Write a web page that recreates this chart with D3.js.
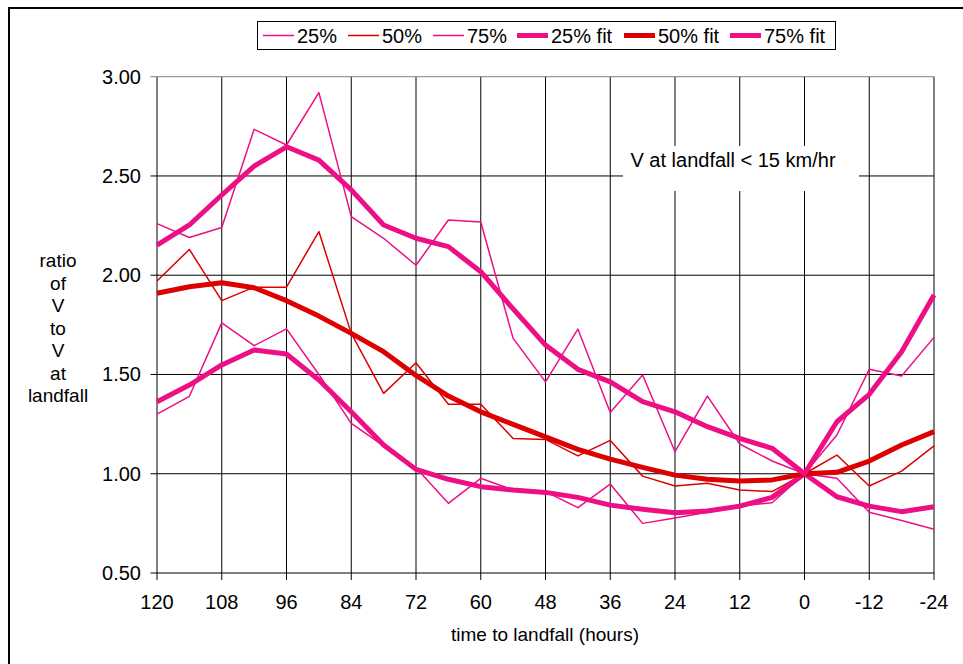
<!DOCTYPE html>
<html>
<head>
<meta charset="utf-8">
<script src="https://cdn.jsdelivr.net/npm/d3@7"></script>
<style>
  body { margin: 0; background: #fff; }
  text { font-family: "Liberation Sans", Arial, sans-serif; fill: #000; }
</style>
</head>
<body>
<div id="chart"></div>
<script>
// hours before landfall, one point every 6 h
const hours = [120, 114, 108, 102, 96, 90, 84, 78, 72, 66, 60, 54, 48, 42, 36, 30, 24, 18, 12, 6, 0, -6, -12, -18, -24];
const xTicks = [120, 108, 96, 84, 72, 60, 48, 36, 24, 12, 0, -12, -24];
const yTicks = [0.5, 1.0, 1.5, 2.0, 2.5, 3.0];

const p25 = [1.30, 1.39, 1.76, 1.645, 1.73, 1.50, 1.254, 1.14, 1.03, 0.851, 0.977, 0.918, 0.91, 0.829, 0.948, 0.75, 0.777, 0.806, 0.837, 0.854, 1.0, 0.977, 0.806, 0.764, 0.72];
const p50 = [1.971, 2.13, 1.872, 1.94, 1.94, 2.22, 1.707, 1.405, 1.559, 1.35, 1.35, 1.178, 1.173, 1.09, 1.168, 0.988, 0.938, 0.952, 0.918, 0.91, 1.0, 1.094, 0.938, 1.013, 1.14];
const p75 = [2.26, 2.19, 2.24, 2.735, 2.656, 2.92, 2.295, 2.186, 2.05, 2.278, 2.268, 1.682, 1.463, 1.729, 1.309, 1.497, 1.111, 1.391, 1.15, 1.064, 1.0, 1.195, 1.526, 1.492, 1.687];
const p25fit = [1.363, 1.447, 1.548, 1.623, 1.603, 1.472, 1.312, 1.145, 1.022, 0.972, 0.935, 0.918, 0.906, 0.881, 0.842, 0.821, 0.803, 0.812, 0.837, 0.881, 1.0, 0.884, 0.837, 0.809, 0.834];
const p50fit = [1.909, 1.942, 1.962, 1.937, 1.872, 1.794, 1.707, 1.615, 1.495, 1.391, 1.312, 1.249, 1.186, 1.123, 1.074, 1.032, 0.993, 0.972, 0.964, 0.969, 1.0, 1.007, 1.064, 1.145, 1.212];
const p75fit = [2.152, 2.253, 2.404, 2.55, 2.647, 2.58, 2.43, 2.253, 2.186, 2.144, 2.018, 1.83, 1.648, 1.526, 1.463, 1.363, 1.312, 1.237, 1.178, 1.128, 1.0, 1.262, 1.40, 1.615, 1.90];

const PINK = "#ec0f86";
const RED = "#dc0000";

const series = [
  { name: "25%", values: p25, color: PINK, width: 1.5 },
  { name: "50%", values: p50, color: RED, width: 1.5 },
  { name: "75%", values: p75, color: PINK, width: 1.5 },
  { name: "25% fit", values: p25fit, color: PINK, width: 5 },
  { name: "50% fit", values: p50fit, color: RED, width: 5 },
  { name: "75% fit", values: p75fit, color: PINK, width: 5 }
];

const width = 963, height = 664;
const svg = d3.select("#chart").append("svg")
  .attr("width", width)
  .attr("height", height);

const x = d3.scaleLinear().domain([120, -24]).range([157, 934]);
const y = d3.scaleLinear().domain([0.5, 3]).range([573, 76.7]);

// outer frame (left + top only, rest runs off the picture)
svg.append("path")
  .attr("d", "M9,664 L9,8 L963,8")
  .attr("fill", "none")
  .attr("stroke", "#000")
  .attr("stroke-width", 2);

// grid
const grid = svg.append("g");
grid.selectAll("line.v")
  .data(xTicks)
  .join("line")
  .attr("x1", d => x(d)).attr("x2", d => x(d))
  .attr("y1", y(3)).attr("y2", y(0.5) + 7)
  .attr("stroke", "#000").attr("stroke-width", 1);
grid.selectAll("line.h")
  .data(yTicks)
  .join("line")
  .attr("x1", x(120) - 6.5).attr("x2", x(-24))
  .attr("y1", d => y(d)).attr("y2", d => y(d))
  .attr("stroke", d => (d === 3 ? "#808080" : "#000")).attr("stroke-width", 1);

// note box
svg.append("rect")
  .attr("x", 623).attr("y", 146)
  .attr("width", 236).attr("height", 45)
  .attr("fill", "#fff");
svg.append("text")
  .attr("x", 733).attr("y", 167)
  .attr("text-anchor", "middle")
  .attr("font-size", 20)
  .text("V at landfall < 15 km/hr");

// axis labels
svg.append("g")
  .selectAll("text")
  .data(yTicks)
  .join("text")
  .attr("x", 141)
  .attr("y", d => y(d) + 7)
  .attr("text-anchor", "end")
  .attr("font-size", 20)
  .text(d => d3.format(".2f")(d));

svg.append("g")
  .selectAll("text")
  .data(xTicks)
  .join("text")
  .attr("x", d => x(d))
  .attr("y", 609)
  .attr("text-anchor", "middle")
  .attr("font-size", 20)
  .text(d => d);

svg.append("text")
  .attr("x", 545).attr("y", 641)
  .attr("text-anchor", "middle")
  .attr("font-size", 19)
  .text("time to landfall (hours)");

const yTitle = ["ratio", "of", "V", "to", "V", "at", "landfall"];
svg.append("g")
  .selectAll("text")
  .data(yTitle)
  .join("text")
  .attr("x", 58)
  .attr("y", (d, i) => 267 + i * 22.5)
  .attr("text-anchor", "middle")
  .attr("font-size", 19)
  .text(d => d);

// data lines
const line = d3.line()
  .x((d, i) => x(hours[i]))
  .y(d => y(d));

svg.append("g")
  .selectAll("path")
  .data(series)
  .join("path")
  .attr("d", d => line(d.values))
  .attr("fill", "none")
  .attr("stroke", d => d.color)
  .attr("stroke-width", d => d.width)
  .attr("stroke-linejoin", "round");

// legend
const legend = svg.append("g");
legend.append("rect")
  .attr("x", 257.5).attr("y", 21.5)
  .attr("width", 578).attr("height", 28)
  .attr("fill", "#fff")
  .attr("stroke", "#000");

const legendX = [263, 348, 433, 517, 624, 730];
const item = legend.selectAll("g")
  .data(series)
  .join("g")
  .attr("transform", (d, i) => `translate(${legendX[i]},35.5)`);
item.append("line")
  .attr("x1", 0).attr("x2", 31)
  .attr("stroke", d => d.color)
  .attr("stroke-width", d => d.width);
item.append("text")
  .attr("x", 34)
  .attr("y", 7)
  .attr("font-size", 20)
  .text(d => d.name);
</script>
</body>
</html>
